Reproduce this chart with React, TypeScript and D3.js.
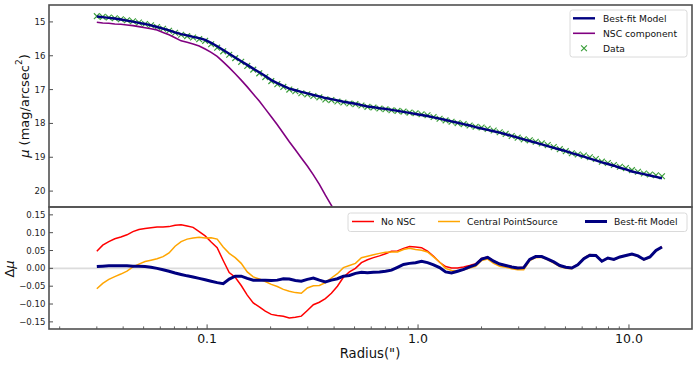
import React from 'react';
import * as d3 from 'd3';

// radius grid (arcsec)
const radius = [
  0.0300, 0.0320, 0.0342, 0.0365, 0.0390, 0.0417, 0.0445, 0.0475, 0.0508, 0.0542,
  0.0579, 0.0618, 0.0660, 0.0705, 0.0753, 0.0804, 0.0858, 0.0917, 0.0979, 0.1045,
  0.1116, 0.1192, 0.1273, 0.1359, 0.1451, 0.1550, 0.1655, 0.1767, 0.1887, 0.2015,
  0.2152, 0.2298, 0.2453, 0.2620, 0.2797, 0.2987, 0.3190, 0.3406, 0.3637, 0.3883,
  0.4147, 0.4428, 0.4728, 0.5049, 0.5391, 0.5757, 0.6147, 0.6564, 0.7009, 0.7484,
  0.7992, 0.8534, 0.9112, 0.9730, 1.039, 1.109, 1.185, 1.265, 1.351, 1.442,
  1.540, 1.645, 1.756, 1.875, 2.002, 2.138, 2.283, 2.438, 2.603, 2.780,
  2.968, 3.170, 3.385, 3.614, 3.859, 4.121, 4.400, 4.699, 5.017, 5.358,
  5.721, 6.109, 6.523, 6.966, 7.438, 7.942, 8.481, 9.056, 9.670, 10.33,
  11.03, 11.77, 12.57, 13.43, 14.34,
];

// observed surface brightness
const dataMu = [
  14.83, 14.85, 14.87, 14.89, 14.92, 14.95, 14.98, 15.02, 15.06, 15.10,
  15.15, 15.20, 15.26, 15.32, 15.38, 15.42, 15.46, 15.51, 15.56, 15.66,
  15.76, 15.87, 15.97, 16.07, 16.18, 16.30, 16.41, 16.52, 16.63, 16.75,
  16.84, 16.92, 17.00, 17.05, 17.11, 17.14, 17.19, 17.23, 17.29, 17.31,
  17.35, 17.38, 17.41, 17.43, 17.47, 17.51, 17.53, 17.56, 17.58, 17.61,
  17.63, 17.65, 17.68, 17.70, 17.73, 17.76, 17.81, 17.86, 17.91, 17.95,
  17.99, 18.02, 18.06, 18.10, 18.12, 18.16, 18.21, 18.26, 18.31, 18.37,
  18.42, 18.47, 18.50, 18.54, 18.59, 18.64, 18.70, 18.76, 18.82, 18.88,
  18.92, 18.95, 19.00, 19.05, 19.13, 19.17, 19.23, 19.28, 19.32, 19.38,
  19.43, 19.48, 19.51, 19.53, 19.56,
];

// best-fit model
const modelMu = [
  14.84, 14.86, 14.88, 14.90, 14.93, 14.96, 14.99, 15.03, 15.06, 15.10,
  15.15, 15.20, 15.25, 15.31, 15.36, 15.40, 15.44, 15.48, 15.53, 15.62,
  15.72, 15.83, 15.94, 16.05, 16.16, 16.27, 16.38, 16.49, 16.60, 16.72,
  16.81, 16.89, 16.97, 17.02, 17.07, 17.11, 17.16, 17.20, 17.25, 17.28,
  17.32, 17.36, 17.39, 17.42, 17.46, 17.50, 17.52, 17.55, 17.57, 17.60,
  17.63, 17.66, 17.69, 17.72, 17.75, 17.78, 17.82, 17.86, 17.90, 17.94,
  17.98, 18.02, 18.06, 18.11, 18.15, 18.19, 18.23, 18.27, 18.32, 18.37,
  18.42, 18.47, 18.52, 18.57, 18.62, 18.67, 18.72, 18.77, 18.82, 18.88,
  18.93, 18.98, 19.04, 19.09, 19.15, 19.20, 19.25, 19.31, 19.36, 19.42,
  19.46, 19.50, 19.54, 19.58, 19.62,
];

// NSC component (first radii only, runs off the panel)
const nscMu = [
  15.01, 15.03, 15.04, 15.06, 15.07, 15.09, 15.11, 15.14, 15.17, 15.20,
  15.24, 15.31, 15.38, 15.47, 15.56, 15.60, 15.65, 15.71, 15.80, 15.90,
  16.02, 16.18, 16.35, 16.53, 16.72, 16.92, 17.13, 17.34, 17.57, 17.80,
  18.04, 18.29, 18.54, 18.78, 19.02, 19.26, 19.52, 19.80, 20.12, 20.42,
  20.72, 21.03,
];

// residuals
const resNoNsc = [
  0.048, 0.065, 0.075, 0.083, 0.088, 0.094, 0.103, 0.109, 0.112, 0.114,
  0.116, 0.116, 0.117, 0.121, 0.122, 0.119, 0.115, 0.103, 0.091, 0.074,
  0.058, 0.022, -0.012, -0.025, -0.048, -0.075, -0.097, -0.108, -0.120, -0.129,
  -0.132, -0.134, -0.139, -0.137, -0.134, -0.118, -0.102, -0.095, -0.085, -0.070,
  -0.050, -0.025, -0.010, 0.000, 0.016, 0.024, 0.030, 0.035, 0.041, 0.048,
  0.049, 0.056, 0.061, 0.060, 0.058, 0.048, 0.034, 0.017, 0.005, 0.001,
  0.001, 0.004, 0.008, 0.013, 0.028, 0.032, 0.021, 0.013, 0.009, 0.005,
  0.002, 0.003, 0.026, 0.034, 0.033, 0.026, 0.017, 0.008, 0.003, 0.002,
  0.011, 0.028, 0.038, 0.036, 0.021, 0.029, 0.025, 0.032, 0.036, 0.040,
  0.035, 0.025, 0.032, 0.050, 0.060,
];

const resPointSource = [
  -0.057, -0.042, -0.031, -0.023, -0.016, -0.008, 0.004, 0.012, 0.019, 0.023,
  0.027, 0.033, 0.043, 0.062, 0.075, 0.082, 0.085, 0.087, 0.085, 0.086,
  0.082, 0.060, 0.042, 0.030, 0.014, -0.010, -0.024, -0.030, -0.037, -0.045,
  -0.051, -0.059, -0.064, -0.068, -0.070, -0.055, -0.049, -0.048, -0.040, -0.027,
  -0.015, 0.002, 0.008, 0.014, 0.030, 0.034, 0.038, 0.042, 0.045, 0.046,
  0.046, 0.053, 0.056, 0.053, 0.051, 0.046, 0.032, 0.018, 0.000, -0.006,
  -0.008, -0.004, 0.001, 0.006, 0.022, 0.026, 0.014, 0.006, 0.003, -0.001,
  -0.004, -0.004, 0.022, 0.030, 0.031, 0.024, 0.015, 0.005, 0.000, -0.001,
  0.010, 0.029, 0.039, 0.037, 0.020, 0.028, 0.024, 0.031, 0.035, 0.039,
  0.034, 0.024, 0.031, 0.049, 0.059,
];

const resBestFit = [
  0.005, 0.006, 0.007, 0.007, 0.007, 0.007, 0.006, 0.006, 0.005, 0.003,
  0.000, -0.004, -0.008, -0.013, -0.017, -0.021, -0.024, -0.028, -0.032, -0.036,
  -0.040, -0.043, -0.030, -0.022, -0.022, -0.028, -0.033, -0.033, -0.033, -0.034,
  -0.033, -0.029, -0.030, -0.034, -0.036, -0.031, -0.027, -0.033, -0.038, -0.033,
  -0.029, -0.022, -0.020, -0.014, -0.011, -0.012, -0.011, -0.010, -0.008, -0.005,
  0.003, 0.011, 0.014, 0.016, 0.020, 0.016, 0.010, 0.002, -0.010, -0.013,
  -0.008, -0.003, 0.004, 0.010, 0.026, 0.031, 0.020, 0.012, 0.008, 0.004,
  0.001, 0.002, 0.025, 0.033, 0.033, 0.026, 0.018, 0.008, 0.003, 0.001,
  0.010, 0.027, 0.037, 0.036, 0.020, 0.029, 0.025, 0.032, 0.036, 0.040,
  0.035, 0.025, 0.032, 0.050, 0.060,
];

const muTicks = [15, 16, 17, 18, 19, 20];
const resTicks = [0.15, 0.1, 0.05, 0, -0.05, -0.1, -0.15];
const xTicks = [0.1, 1, 10];
const xTickLabels = ['0.1', '1.0', '10.0'];

const FONT = 'DejaVu Sans';
const FRAME = '#505050';
const GREEN = '#3a9e3a';

export default function App() {
  const left = 49, right = 692;
  const top0 = 5, top1 = 207, bot0 = 207, bot1 = 329;

  const x = d3.scaleLog().domain([0.0178, 19.9]).range([left, right]);
  const yTop = d3.scaleLinear().domain([14.5, 20.47]).range([top0, top1]);
  const yBot = d3.scaleLinear().domain([-0.17, 0.172]).range([bot1, bot0]);

  const lineTop = d3.line<number>().x((_, i) => x(radius[i])).y(d => yTop(d));
  const lineBot = d3.line<number>().x((_, i) => x(radius[i])).y(d => yBot(d));

  const minor = x.ticks().filter(t => {
    const l = Math.log10(t);
    return Math.abs(l - Math.round(l)) > 1e-6;
  });

  const fmtRes = (v: number) => {
    const s = Math.abs(v).toFixed(2);
    return v < -1e-9 ? '\u2212' + s : s;
  };

  const cross = (cx: number, cy: number, s: number) =>
    `M${cx - s},${cy - s}L${cx + s},${cy + s}M${cx - s},${cy + s}L${cx + s},${cy - s}`;

  return (
    <svg width={697} height={366} style={{ position: 'absolute', left: 0, top: 0, background: '#fff' }}
      fontFamily={FONT}>
      <defs>
        <clipPath id="clipTop"><rect x={left} y={top0} width={right - left} height={top1 - top0} /></clipPath>
        <clipPath id="clipBot"><rect x={left} y={bot0} width={right - left} height={bot1 - bot0} /></clipPath>
      </defs>

      {/* top panel */}
      <g clipPath="url(#clipTop)">
        {dataMu.map((d, i) => (
          <path key={i} d={cross(x(radius[i]), yTop(d), 2.9)} stroke={GREEN} strokeWidth={1.15} fill="none" />
        ))}
        <path d={lineTop(nscMu) || ''} fill="none" stroke="#800080" strokeWidth={1.6} />
        <path d={lineTop(modelMu) || ''} fill="none" stroke="#000080" strokeWidth={2.4} />
      </g>
      {muTicks.map(t => (
        <g key={t}>
          <line x1={left} x2={left + 4} y1={yTop(t)} y2={yTop(t)} stroke={FRAME} strokeWidth={1} />
          <text x={45.5} y={yTop(t)} textAnchor="end" dominantBaseline="central" fontSize={8.6} fill="#222">{t}</text>
        </g>
      ))}
      <rect x={left} y={top0} width={right - left} height={top1 - top0} fill="none" stroke={FRAME} strokeWidth={1.6} />
      <text transform={`translate(24,106) rotate(-90)`} textAnchor="middle" dominantBaseline="central" fontSize={13} fill="#111">
        <tspan fontStyle="italic">μ</tspan> (mag/arcsec<tspan dy={-5} fontSize={9}>2</tspan><tspan dy={5}>)</tspan>
      </text>

      {/* top legend */}
      <g>
        <rect x={570} y={10} width={117} height={47} rx={2.5} fill="#fff" fillOpacity={0.85} stroke="#d0d0d0" strokeWidth={0.8} />
        <line x1={573} x2={595} y1={18.3} y2={18.3} stroke="#000080" strokeWidth={2.4} />
        <text x={603} y={18.3} dominantBaseline="central" fontSize={9.2} fill="#111">Best-fit Model</text>
        <line x1={573} x2={595} y1={33.3} y2={33.3} stroke="#800080" strokeWidth={1.6} />
        <text x={603} y={33.3} dominantBaseline="central" fontSize={9.2} fill="#111">NSC component</text>
        <path d={cross(584, 48.3, 2.9)} stroke={GREEN} strokeWidth={1.15} />
        <text x={603} y={48.3} dominantBaseline="central" fontSize={9.2} fill="#111">Data</text>
      </g>

      {/* bottom panel */}
      <line x1={left} x2={right} y1={yBot(0)} y2={yBot(0)} stroke="#dcdcdc" strokeWidth={1.6} />
      <g clipPath="url(#clipBot)">
        <path d={lineBot(resNoNsc) || ''} fill="none" stroke="#ff0000" strokeWidth={1.5} />
        <path d={lineBot(resPointSource) || ''} fill="none" stroke="#ffa500" strokeWidth={1.5} />
        <path d={lineBot(resBestFit) || ''} fill="none" stroke="#000080" strokeWidth={3} />
      </g>
      {resTicks.map(t => (
        <g key={t}>
          <line x1={left} x2={left + 4} y1={yBot(t)} y2={yBot(t)} stroke={FRAME} strokeWidth={1} />
          <text x={45.5} y={yBot(t)} textAnchor="end" dominantBaseline="central" fontSize={8.6} fill="#222">{fmtRes(t)}</text>
        </g>
      ))}
      {minor.map(t => (
        <line key={t} x1={x(t)} x2={x(t)} y1={bot1} y2={bot1 - 2.6} stroke={FRAME} strokeWidth={0.9} />
      ))}
      {xTicks.map((t, i) => (
        <g key={t}>
          <line x1={x(t)} x2={x(t)} y1={bot1} y2={bot1 - 4.6} stroke={FRAME} strokeWidth={1} />
          <text x={x(t)} y={338} textAnchor="middle" dominantBaseline="central" fontSize={12.5} fill="#111">{xTickLabels[i]}</text>
        </g>
      ))}
      <rect x={left} y={bot0} width={right - left} height={bot1 - bot0} fill="none" stroke={FRAME} strokeWidth={1.6} />
      <text transform={`translate(9,269) rotate(-90)`} textAnchor="middle" dominantBaseline="central" fontSize={13} fill="#111">
        Δ<tspan fontStyle="italic">μ</tspan>
      </text>
      <text x={370} y={353} textAnchor="middle" dominantBaseline="central" fontSize={13.2} fill="#111">Radius(")</text>

      {/* bottom legend */}
      <g>
        <rect x={348} y={213} width={339} height={18.5} rx={2.5} fill="#fff" fillOpacity={0.85} stroke="#d0d0d0" strokeWidth={0.8} />
        <line x1={352} x2={374} y1={221.5} y2={221.5} stroke="#ff0000" strokeWidth={1.5} />
        <text x={381} y={221.5} dominantBaseline="central" fontSize={9.2} fill="#111">No NSC</text>
        <line x1={438} x2={460} y1={221.5} y2={221.5} stroke="#ffa500" strokeWidth={1.5} />
        <text x={467} y={221.5} dominantBaseline="central" fontSize={9.2} fill="#111">Central PointSource</text>
        <line x1={585} x2={607} y1={221.5} y2={221.5} stroke="#000080" strokeWidth={3} />
        <text x={614} y={221.5} dominantBaseline="central" fontSize={9.2} fill="#111">Best-fit Model</text>
      </g>
    </svg>
  );
}
